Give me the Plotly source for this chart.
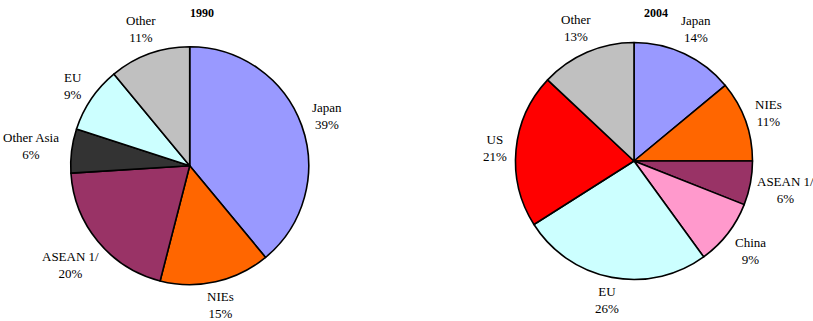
import math
import plotly.graph_objects as go

labels_1990 = ["Japan", "NIEs", "ASEAN 1/", "Other Asia", "EU", "Other"]
values_1990 = [39, 15, 20, 6, 9, 11]
colors_1990 = ["#9999FF", "#FF6600", "#993366", "#333333", "#CCFFFF", "#C0C0C0"]

labels_2004 = ["Japan", "NIEs", "ASEAN 1/", "China", "EU", "US", "Other"]
values_2004 = [14, 11, 6, 9, 26, 21, 13]
colors_2004 = ["#9999FF", "#FF6600", "#993366", "#FF99CC", "#CCFFFF", "#FF0000", "#C0C0C0"]

titles = ["1990", "2004"]

W, H = 813, 321
FAMILY = "Liberation Serif, Times New Roman, serif"
font = dict(family=FAMILY, size=13, color="black")
tfont = dict(family=FAMILY, size=12, color="black")

# pie geometry in pixels (centre x, centre y, radius)
geoms = [(189.7, 165.7, 119), (634, 161, 118.5)]
title_x = [202, 656]


def text_halfwidth(s):
    w = 0.0
    for ch in s:
        w += 10.8 if ch == "%" else 6.3
    return w / 2


fig = go.Figure()
for (labels, values, colors), (cx, cy, r) in zip(
    [(labels_1990, values_1990, colors_1990), (labels_2004, values_2004, colors_2004)], geoms
):
    fig.add_trace(go.Pie(
        labels=labels, values=values, sort=False, direction="clockwise", rotation=0,
        marker=dict(colors=colors, line=dict(color="black", width=1.6)),
        textinfo="none", showlegend=False, hoverinfo="label+value",
        domain=dict(x=[(cx - r) / W, (cx + r) / W], y=[1 - (cy + r) / H, 1 - (cy - r) / H]),
    ))
    total = float(sum(values))
    cum = 0.0
    for lab, v in zip(labels, values):
        mid = (cum + v / 2) / total
        cum += v
        th = 2 * math.pi * mid
        s, c = math.sin(th), math.cos(th)
        pct = "%d%%" % round(100 * v / total)
        hw = max(text_halfwidth(lab), text_halfwidth(pct))
        hh = 13.5
        R = r + 8 + hw * abs(s) + hh * abs(c)
        x = cx + R * s
        y = cy - R * c
        fig.add_annotation(text="%s<br>%s" % (lab, pct), x=x / W, y=1 - y / H,
                           xref="paper", yref="paper", showarrow=False, font=font,
                           xanchor="center", yanchor="middle", align="center")

for txt, x in zip(titles, title_x):
    fig.add_annotation(text="<b>%s</b>" % txt, x=x / W, y=1 - 13 / H, xref="paper", yref="paper",
                       showarrow=False, font=tfont, xanchor="center", yanchor="middle")

fig.update_layout(width=W, height=H, margin=dict(l=0, r=0, t=0, b=0), autosize=False,
                  paper_bgcolor="white", plot_bgcolor="white", font=font)
fig.write_html("out.html")
